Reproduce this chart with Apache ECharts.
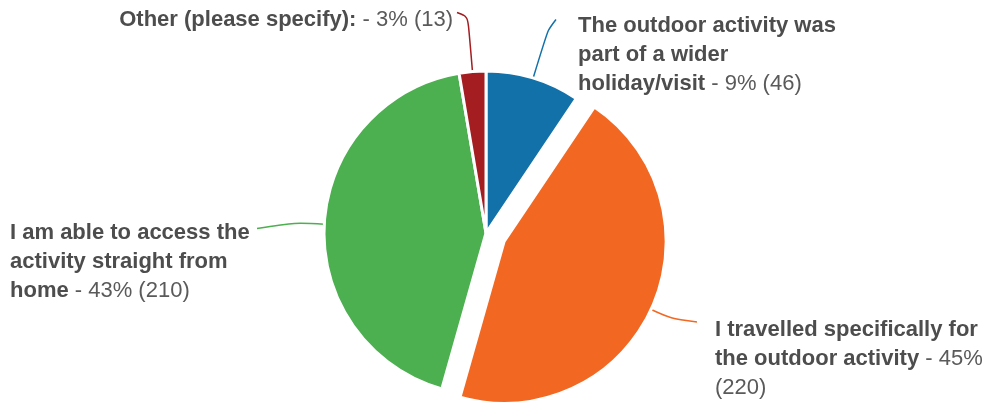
<!DOCTYPE html>
<html>
<head>
<meta charset="utf-8">
<script src="https://cdn.jsdelivr.net/npm/echarts@6/dist/echarts.min.js"></script>
<style>
  html, body { margin: 0; padding: 0; background: #ffffff; }
  #chart { width: 989px; height: 407px; }
</style>
</head>
<body>
<div id="chart"></div>
<script>
// Survey answers, clockwise from 12 o'clock
const categories = [
  'The outdoor activity was part of a wider holiday/visit',
  'I travelled specifically for the outdoor activity',
  'I am able to access the activity straight from home',
  'Other (please specify):'
];
// Wrapped label lines for each answer
const labelLines = [
  ['The outdoor activity was', 'part of a wider', 'holiday/visit'],
  ['I travelled specifically for', 'the outdoor activity'],
  ['I am able to access the', 'activity straight from', 'home'],
  ['Other (please specify):']
];
const counts = [46, 220, 210, 13];
const colors = ['#1271a9', '#f26822', '#4caf50', '#a31d21'];

// Pie geometry
const PIE_CX = 486, PIE_CY = 233, PIE_R = 162, EXPLODE = 20;
const EXPLODED_INDEX = 1;

// Label boxes (aligned edge x, top y) and where each leader line meets the label
const labelBoxes = [
  { x: 578, y: 11.5, align: 'left',  lx: -22, ly: 8,  ext: 50 },
  { x: 715, y: 315,  align: 'left',  lx: -18, ly: 7,  ext: 22 },
  { x: 10,  y: 218.5, align: 'left', lx: 247, ly: 10, ext: 30 },
  { x: 453, y: 5.5,  align: 'right', lx: 4,   ly: 7,  ext: 55 }
];

const FONT = 'Liberation Sans, Arial, Helvetica, sans-serif';

function labelText(i, pct) {
  const head = labelLines[i].map(l => '{b|' + l + '}').join('\n');
  if (i === 1) return head + '{n| - ' + pct + '%}\n{n|(' + counts[i] + ')}';
  return head + '{n| - ' + pct + '% (' + counts[i] + ')}';
}

// Mid-angle of each slice (radians, clockwise from 12 o'clock) from the data
const total = counts.reduce((a, b) => a + b, 0);
const midAngles = [];
(function () {
  let acc = 0;
  counts.forEach(v => {
    midAngles.push(((acc + v / 2) / total) * Math.PI * 2);
    acc += v;
  });
})();

// Offset of the exploded slice's centre
const exA = midAngles[EXPLODED_INDEX];
const EX_DX = Math.sin(exA) * EXPLODE, EX_DY = -Math.cos(exA) * EXPLODE;

function leaderPoints(i) {
  const a = midAngles[i];
  const dx = Math.sin(a), dy = -Math.cos(a);
  const off = i === EXPLODED_INDEX ? EXPLODE : 0;
  const ex = PIE_CX + dx * (PIE_R + off), ey = PIE_CY + dy * (PIE_R + off);
  const b = labelBoxes[i];
  return [[ex, ey], [ex + dx * b.ext, ey + dy * b.ext], [b.x + b.lx, b.y + b.ly]];
}

// One pie layer; `visible(i)` decides which slices this layer paints
function pieLayer(center, visible) {
  return {
    type: 'pie',
    center: center,
    radius: [0, PIE_R],
    startAngle: 90,
    clockwise: true,
    percentPrecision: 0,
    silent: true,
    data: categories.map((name, i) => {
      const on = visible(i);
      return {
        name: name,
        value: counts[i],
        itemStyle: on
          ? { color: colors[i], borderColor: '#ffffff', borderWidth: 3 }
          : { color: 'rgba(0,0,0,0)', borderWidth: 0 },
        label: { show: on },
        labelLine: { show: on, lineStyle: { color: colors[i] } }
      };
    }),
    emphasis: { disabled: true },
    label: {
      position: 'outside',
      formatter: p => labelText(p.dataIndex, p.percent),
      rich: {
        b: { fontFamily: FONT, fontSize: 22, fontWeight: 'bold', color: '#4d4d4d', lineHeight: 29 },
        n: { fontFamily: FONT, fontSize: 22, color: '#5a5a5a', lineHeight: 29 }
      }
    },
    labelLine: { length: 20, length2: 30, smooth: 0.3, lineStyle: { width: 1.5 } },
    labelLayout: function (params) {
      const i = params.dataIndex;
      const b = labelBoxes[i];
      return {
        x: b.x, y: b.y, align: b.align, verticalAlign: 'top',
        moveOverlap: false,
        labelLinePoints: leaderPoints(i)
      };
    }
  };
}

const chart = echarts.init(document.getElementById('chart'), null, { renderer: 'canvas' });
chart.setOption({
  animation: false,
  series: [
    pieLayer([PIE_CX, PIE_CY], i => i !== EXPLODED_INDEX),
    pieLayer([PIE_CX + EX_DX, PIE_CY + EX_DY], i => i === EXPLODED_INDEX)
  ]
});
</script>
</body>
</html>
